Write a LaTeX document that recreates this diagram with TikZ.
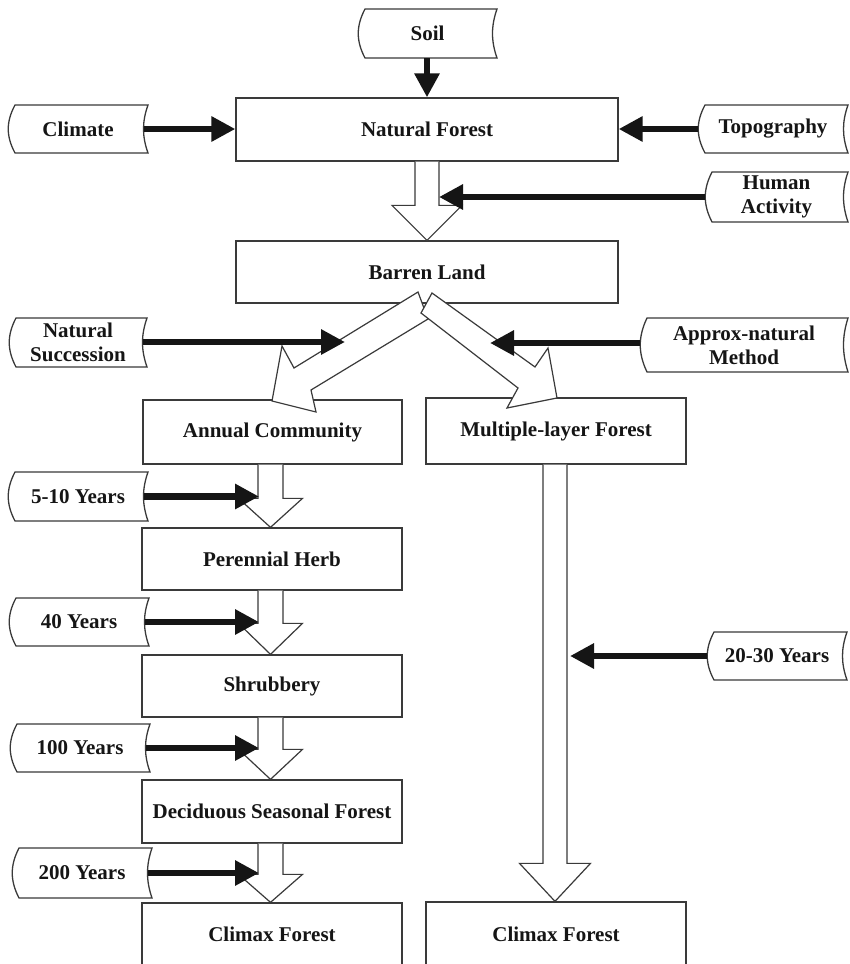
\documentclass[tikz,border=0pt]{standalone}
\usepackage{fontspec}
\setmainfont{Liberation Serif}
\usetikzlibrary{arrows.meta,calc}
\definecolor{edgec}{HTML}{3A3A3A}
\definecolor{inkc}{HTML}{151515}
\newcommand\lbfont{\fontsize{21}{24}\selectfont\bfseries}
\tikzset{
  box/.style={draw=edgec, line width=1.3pt, fill=white, inner sep=0pt, font=\lbfont, text=inkc},
  lbl/.style={inner sep=0pt, font=\lbfont, align=center, text=inkc},
  edgeline/.style={draw=edgec, line width=1.3pt, fill=white},
  hollow/.style={draw=edgec, line width=1.2pt, fill=white, line join=miter},
  thickarr/.style={line width=6.5pt, draw=inkc, -{Triangle[length=24pt,width=24pt]}},
}
\newcommand\mybox[6]{%
  \pgfmathsetmacro\myW{#4-#2}\pgfmathsetmacro\myH{#5-#3}%
  \node[box, minimum width=\myW pt, minimum height=\myH pt] (#1) at ({(#2+#4)/2},{(#3+#5)/2}) {#6};}
\newcommand\myscroll[6]{%
  \pgfmathsetmacro\myW{#4-#2}\pgfmathsetmacro\myH{#5-#3}%
  \pgfmathsetmacro\myA{#3+0.35*\myH}\pgfmathsetmacro\myB{#5-0.35*\myH}%
  \pgfmathsetmacro\myL{#2+7}\pgfmathsetmacro\myLc{#2-2}\pgfmathsetmacro\myRc{#4-6}%
  \draw[edgeline] (\myL,#3) -- (#4,#3) .. controls (\myRc,\myA) and (\myRc,\myB) .. (#4,#5) -- (\myL,#5) .. controls (\myLc,\myB) and (\myLc,\myA) .. cycle;
  \node[lbl, minimum width=\myW pt, minimum height=\myH pt] (#1) at ({(#2+#4)/2},{(#3+#5)/2}) {#6};}
\newcommand\hollowdown[6]{%
  \draw[hollow] let \p1=(#1.south), \p2=(#2.north) in
   ({(#3-#4)*1pt},\y1) -- ({(#3-#4)*1pt},{\y2+#6pt}) -- ({(#3-#5)*1pt},{\y2+#6pt}) -- ({#3*1pt},\y2)
   -- ({(#3+#5)*1pt},{\y2+#6pt}) -- ({(#3+#4)*1pt},{\y2+#6pt}) -- ({(#3+#4)*1pt},\y1);}
\begin{document}
\begin{tikzpicture}[x=1pt,y=-1pt]
\useasboundingbox (0,0) rectangle (850,964);
\clip (0,0) rectangle (850,964);
\fill[white] (0,0) rectangle (850,964);
% main boxes
\mybox{nf}{236}{98}{618}{161}{Natural Forest}
\mybox{bl}{236}{241}{618}{303}{Barren Land}
\mybox{ac}{143}{400}{402}{464}{Annual Community}
\mybox{mlf}{426}{398}{686}{464}{Multiple-layer Forest}
\mybox{ph}{142}{528}{402}{590}{Perennial Herb}
\mybox{sh}{142}{655}{402}{717}{Shrubbery}
\mybox{dsf}{142}{780}{402}{843}{Deciduous Seasonal Forest}
\mybox{cfa}{142}{903}{402}{966}{Climax Forest}
\mybox{cfb}{426}{902}{686}{966}{Climax Forest}
% hollow arrows
\hollowdown{nf}{bl}{427}{12}{35}{35}
\hollowdown{ac}{ph}{270.5}{12.5}{32}{29}
\hollowdown{ph}{sh}{270.5}{12.5}{32}{31}
\hollowdown{sh}{dsf}{270.5}{12.5}{32}{30}
\hollowdown{dsf}{cfa}{270.5}{12.5}{32}{28}
\hollowdown{mlf}{cfb}{555}{12}{35.5}{38}
% diverging hollow arrows from Barren Land
\draw[hollow] (418,292) -- (294,368) -- (282,346) -- (272,401) -- (316,412) -- (311,390) -- (428,319) -- cycle;
\draw[hollow] (432,293) -- (535,367) -- (548,348) -- (557,398) -- (507,408) -- (518,388) -- (421,313) -- cycle;
% side labels
\myscroll{soil}{358}{9}{497}{58}{Soil}
\myscroll{climate}{8}{105}{148}{153}{Climate}
\myscroll{topo}{698}{105}{848}{153}{Topography}
\myscroll{human}{705}{172}{848}{222}{Human\\Activity}
\myscroll{natsucc}{9}{318}{147}{367}{Natural\\Succession}
\myscroll{approx}{640}{318}{848}{372}{Approx-natural\\Method}
\myscroll{ya}{8}{472}{148}{521}{5-10 Years}
\myscroll{yb}{9}{598}{149}{646}{40 Years}
\myscroll{yc}{10}{724}{150}{772}{100 Years}
\myscroll{yd}{12}{848}{152}{898}{200 Years}
\myscroll{ye}{707}{632}{847}{680}{20-30 Years}
% target points on the hollow arrows
\coordinate (tHA) at (439,197);
\coordinate (tNS) at (345,342);
\coordinate (tAP) at (490,343);
\coordinate (tL) at (259,0);
\coordinate (tR) at (570,0);
% thick arrows
\draw[thickarr] (soil.south -| nf.north) -- (nf.north);
\draw[thickarr] ([xshift=-4pt]climate.east) -- (nf.west |- climate.east);
\draw[thickarr] (topo.west) -- (nf.east |- topo.west);
\draw[thickarr] (human.west |- tHA) -- (tHA);
\draw[thickarr] ([xshift=-4pt]natsucc.east |- tNS) -- (tNS);
\draw[thickarr] (approx.west |- tAP) -- (tAP);
\draw[thickarr] ([xshift=-4pt]ya.east) -- (tL |- ya.east);
\draw[thickarr] ([xshift=-4pt]yb.east) -- (tL |- yb.east);
\draw[thickarr] ([xshift=-4pt]yc.east) -- (tL |- yc.east);
\draw[thickarr] ([xshift=-4pt]yd.east) -- (tL |- yd.east);
\draw[thickarr] (ye.west) -- (tR |- ye.west);
\end{tikzpicture}
\end{document}
